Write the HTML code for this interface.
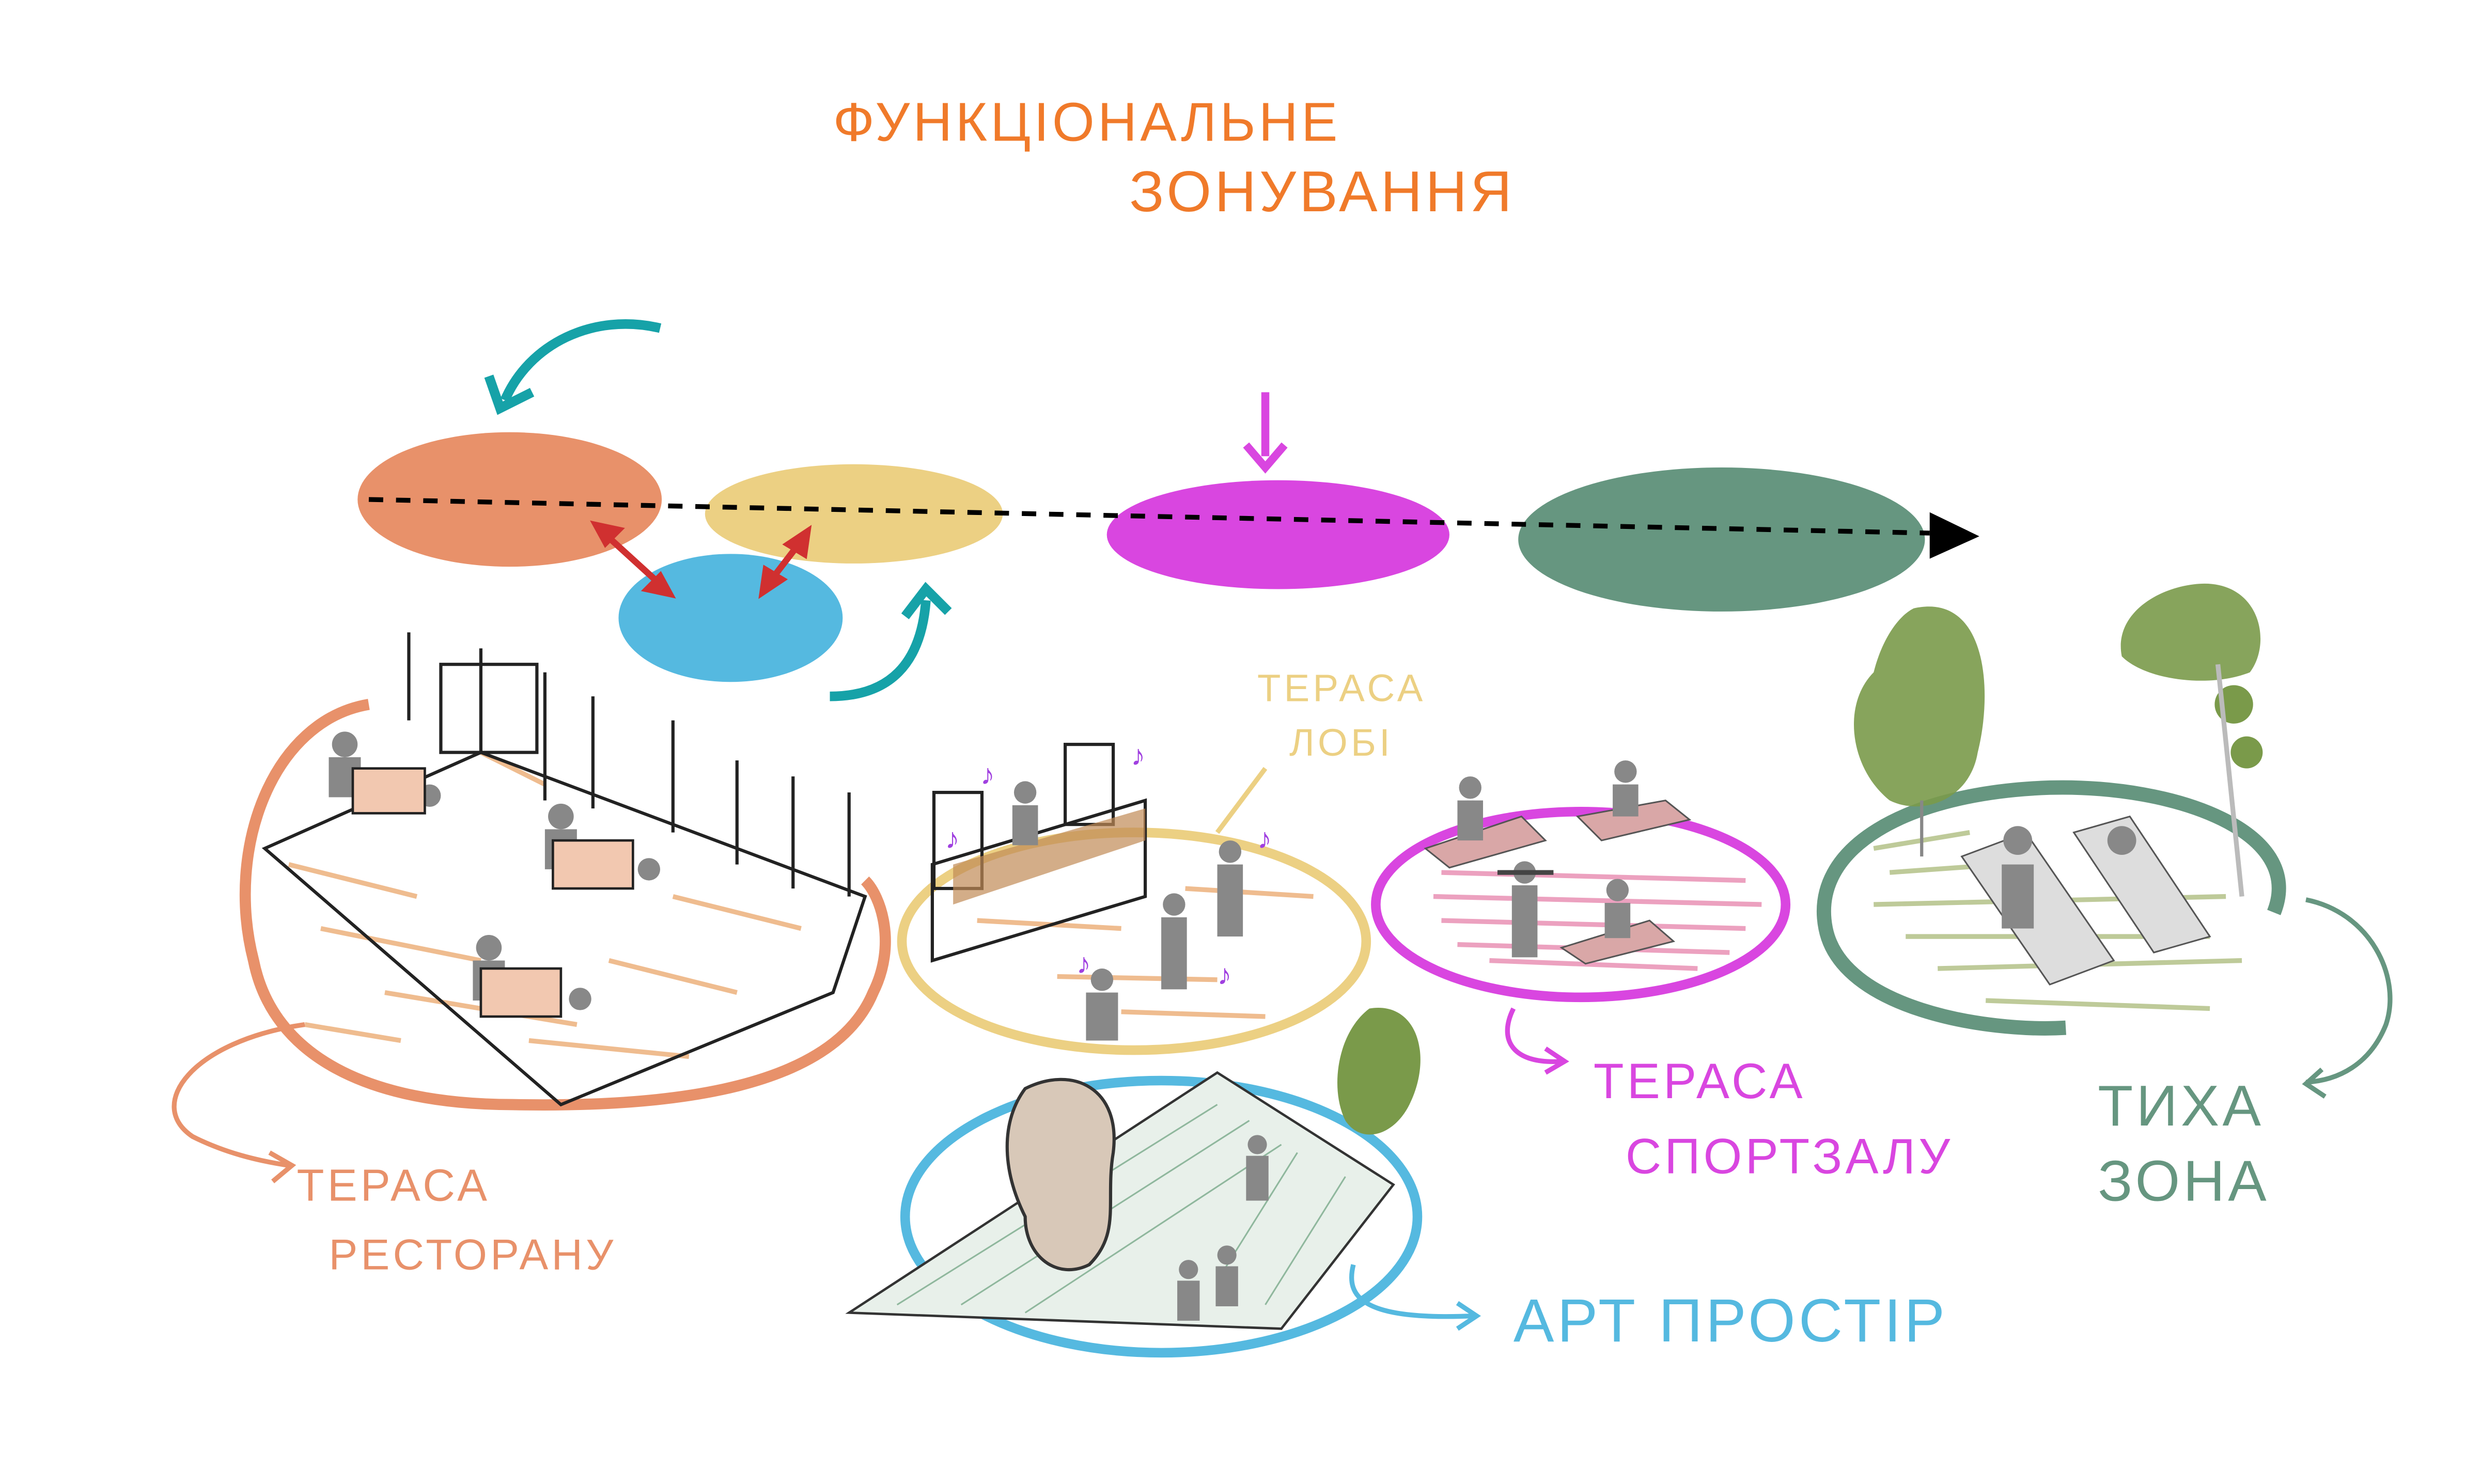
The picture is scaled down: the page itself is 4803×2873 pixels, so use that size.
<!DOCTYPE html>
<html><head><meta charset="utf-8"><style>
html,body{margin:0;padding:0;background:#fff;}
svg{display:block;}
text{font-family:"Liberation Sans",sans-serif;letter-spacing:2px;}
</style></head><body>
<svg width="4803" height="2873" viewBox="0 0 1549 927" xmlns="http://www.w3.org/2000/svg">
<rect width="1549" height="927" fill="#fff"/>
<!-- title -->
<text x="520" y="88" font-size="34" fill="#f07a2a">ФУНКЦІОНАЛЬНЕ</text>
<text x="705" y="132" font-size="36" fill="#f07a2a">ЗОНУВАННЯ</text>

<!-- top ellipses -->
<ellipse cx="318" cy="312" rx="95" ry="42" fill="#e8916a"/>
<ellipse cx="456" cy="386" rx="70" ry="40" fill="#55b9e0"/>
<ellipse cx="533" cy="321" rx="93" ry="31" fill="#ecd083"/>
<ellipse cx="798" cy="334" rx="107" ry="34" fill="#d946e0"/>
<ellipse cx="1075" cy="337" rx="127" ry="45" fill="#669680"/>
<line x1="230" y1="312" x2="1205" y2="333" stroke="#000" stroke-width="3" stroke-dasharray="9,8"/>
<path d="M1205,320 L1236,335 L1205,349 z" fill="#000"/>
<!-- red arrows -->
<g stroke="#d03030" stroke-width="4" fill="#d03030">
<line x1="378" y1="334" x2="412" y2="365"/><path d="M372,328 l14,3 -8,8z"/><path d="M418,371 l-14,-3 8,-8z"/>
<line x1="480" y1="364" x2="500" y2="338"/><path d="M476,370 l2,-14 10,6z"/><path d="M504,332 l-2,14 -10,-6z"/>
</g>
<!-- magenta arrow -->
<line x1="790" y1="245" x2="790" y2="285" stroke="#d946e0" stroke-width="5"/>
<path d="M778,278 L790,292 L802,278" stroke="#d946e0" stroke-width="5" fill="none"/>
<!-- teal arrows -->
<path d="M412,205 C370,195 330,215 315,250" stroke="#16a2a8" stroke-width="6" fill="none"/>
<path d="M305,235 L312,255 L332,245" stroke="#16a2a8" stroke-width="6" fill="none"/>
<path d="M518,435 C555,435 575,415 578,375" stroke="#16a2a8" stroke-width="6" fill="none"/>
<path d="M565,385 L578,368 L592,382" stroke="#16a2a8" stroke-width="6" fill="none"/>

<!-- restaurant blob -->
<path d="M230,440 C170,450 140,530 158,600 C170,660 230,690 320,690 C420,692 520,680 545,620 C560,590 550,560 540,550" stroke="#e8916a" stroke-width="7" fill="none"/>
<g stroke="#e9a060" stroke-width="3" opacity="0.7">
<line x1="180" y1="540" x2="260" y2="560"/><line x1="200" y1="580" x2="300" y2="600"/><line x1="240" y1="620" x2="360" y2="640"/><line x1="300" y1="470" x2="340" y2="490"/><line x1="380" y1="600" x2="460" y2="620"/><line x1="420" y1="560" x2="500" y2="580"/><line x1="190" y1="640" x2="250" y2="650"/><line x1="330" y1="650" x2="430" y2="660"/>
</g>
<g stroke="#222" stroke-width="2" fill="none">
<path d="M165,530 L300,470 L540,560 L520,620 L350,690 Z"/>
<line x1="255" y1="395" x2="255" y2="450"/><line x1="300" y1="405" x2="300" y2="470"/><line x1="340" y1="420" x2="340" y2="500"/><line x1="370" y1="435" x2="370" y2="505"/><line x1="420" y1="450" x2="420" y2="520"/><line x1="460" y1="475" x2="460" y2="540"/><line x1="495" y1="485" x2="495" y2="555"/><line x1="530" y1="495" x2="530" y2="560"/>
<rect x="275" y="415" width="60" height="55"/>
</g>
<g fill="#888"><circle cx="215" cy="465" r="8"/><rect x="205" y="473" width="20" height="25"/><circle cx="350" cy="510" r="8"/><rect x="340" y="518" width="20" height="25"/><circle cx="305" cy="592" r="8"/><rect x="295" y="600" width="20" height="25"/><circle cx="268" cy="497" r="7"/><circle cx="405" cy="543" r="7"/><circle cx="362" cy="624" r="7"/></g>
<g fill="#f2c8b0" stroke="#222" stroke-width="1.5"><rect x="220" y="480" width="45" height="28"/><rect x="345" y="525" width="50" height="30"/><rect x="300" y="605" width="50" height="30"/></g>
<path d="M190,640 C120,650 90,690 120,710 C140,720 160,725 180,728" stroke="#e8916a" stroke-width="3" fill="none"/>
<path d="M168,720 L182,728 L170,738" stroke="#e8916a" stroke-width="3" fill="none"/>
<text x="185" y="750" font-size="28" fill="#e8916a">ТЕРАСА</text>
<text x="205" y="793" font-size="27" fill="#e8916a">РЕСТОРАНУ</text>

<!-- lobby -->
<ellipse cx="708" cy="588" rx="145" ry="68" stroke="#ecd083" stroke-width="6" fill="none"/>
<g stroke="#e9a060" stroke-width="3" opacity="0.7"><line x1="610" y1="575" x2="700" y2="580"/><line x1="660" y1="610" x2="760" y2="612"/><line x1="740" y1="555" x2="820" y2="560"/><line x1="700" y1="632" x2="790" y2="635"/></g>
<g stroke="#222" stroke-width="2" fill="none"><path d="M582,540 L715,500 L715,560 L582,600 Z"/><rect x="583" y="495" width="30" height="60"/><rect x="665" y="465" width="30" height="50"/></g>
<path d="M595,540 L715,505 L715,525 L595,565 Z" fill="#c08a55" opacity="0.7"/>
<g fill="#888"><circle cx="768" cy="532" r="7"/><rect x="760" y="540" width="16" height="45"/><circle cx="733" cy="565" r="7"/><rect x="725" y="573" width="16" height="45"/><circle cx="688" cy="612" r="7"/><rect x="678" y="620" width="20" height="30"/><circle cx="640" cy="495" r="7"/><rect x="632" y="503" width="16" height="25"/></g>
<g fill="#a040e0" font-size="18"><text x="612" y="490">♪</text><text x="706" y="478">♪</text><text x="785" y="530">♪</text><text x="672" y="608">♪</text><text x="760" y="615">♪</text><text x="590" y="530">♪</text></g>
<path d="M760,520 L790,480" stroke="#ecd083" stroke-width="3"/>
<text x="785" y="438" font-size="24" fill="#ecd083">ТЕРАСА</text>
<text x="805" y="472" font-size="24" fill="#ecd083">ЛОБІ</text>

<!-- gym -->
<ellipse cx="987" cy="565" rx="128" ry="58" stroke="#d946e0" stroke-width="6" fill="none"/>
<g stroke="#e88ab0" stroke-width="3" opacity="0.8"><line x1="900" y1="545" x2="1090" y2="550"/><line x1="895" y1="560" x2="1100" y2="565"/><line x1="900" y1="575" x2="1090" y2="580"/><line x1="910" y1="590" x2="1080" y2="595"/><line x1="930" y1="600" x2="1060" y2="605"/></g>
<g fill="#d9a7a7" stroke="#555"><path d="M890,530 L950,510 L965,525 L905,542 Z"/><path d="M985,510 L1040,500 L1055,512 L1000,525 Z"/><path d="M975,592 L1030,575 L1045,588 L990,602 Z"/></g>
<g fill="#888"><circle cx="918" cy="492" r="7"/><rect x="910" y="500" width="16" height="25"/><circle cx="1015" cy="482" r="7"/><rect x="1007" y="490" width="16" height="20"/><circle cx="1010" cy="556" r="7"/><rect x="1002" y="564" width="16" height="22"/><circle cx="952" cy="545" r="7"/><rect x="944" y="553" width="16" height="45"/></g>
<line x1="935" y1="545" x2="970" y2="545" stroke="#444" stroke-width="3"/>
<path d="M945,630 C935,650 945,665 975,663" stroke="#d946e0" stroke-width="3" fill="none"/>
<path d="M965,655 L977,663 L965,670" stroke="#d946e0" stroke-width="3" fill="none"/>
<text x="995" y="686" font-size="31" fill="#d946e0">ТЕРАСА</text>
<text x="1015" y="733" font-size="31" fill="#d946e0">СПОРТЗАЛУ</text>

<!-- quiet zone -->
<path d="M1420,570 C1440,520 1360,490 1280,492 C1190,495 1130,530 1140,580 C1150,630 1240,645 1290,642" stroke="#669680" stroke-width="9" fill="none"/>
<g stroke="#a3b56e" stroke-width="3" opacity="0.7"><line x1="1180" y1="545" x2="1250" y2="540"/><line x1="1170" y1="565" x2="1390" y2="560"/><line x1="1190" y1="585" x2="1380" y2="585"/><line x1="1210" y1="605" x2="1400" y2="600"/><line x1="1240" y1="625" x2="1380" y2="630"/><line x1="1170" y1="530" x2="1230" y2="520"/></g>
<g fill="#ddd" stroke="#555"><path d="M1225,535 L1265,520 L1320,600 L1280,615 Z"/><path d="M1295,520 L1330,510 L1380,585 L1345,595 Z"/></g>
<g fill="#888"><circle cx="1260" cy="525" r="9"/><circle cx="1325" cy="525" r="9"/><rect x="1250" y="540" width="20" height="40"/></g>
<path d="M1195,380 C1240,370 1245,430 1235,470 C1230,500 1200,510 1180,500 C1155,480 1150,440 1170,420 C1175,400 1185,385 1195,380 Z" fill="#7a9a4a" opacity="0.9"/>
<line x1="1200" y1="500" x2="1200" y2="535" stroke="#888" stroke-width="2"/>
<path d="M1370,365 C1410,360 1420,400 1405,420 C1380,430 1340,425 1325,410 C1320,385 1345,368 1370,365 Z" fill="#7a9a4a" opacity="0.9"/>
<circle cx="1395" cy="440" r="12" fill="#7a9a4a"/><circle cx="1403" cy="470" r="10" fill="#7a9a4a"/>
<line x1="1385" y1="415" x2="1400" y2="560" stroke="#bbb" stroke-width="3"/>
<path d="M1440,562 C1480,570 1500,610 1490,640 C1480,665 1460,675 1440,676" stroke="#669680" stroke-width="3" fill="none"/>
<path d="M1450,668 L1440,677 L1452,685" stroke="#669680" stroke-width="3" fill="none"/>
<text x="1310" y="703" font-size="36" fill="#669680">ТИХА</text>
<text x="1310" y="750" font-size="36" fill="#669680">ЗОНА</text>

<!-- art space -->
<ellipse cx="725" cy="760" rx="160" ry="85" stroke="#55b9e0" stroke-width="6" fill="none"/>
<path d="M530,820 L760,670 L870,740 L800,830 Z" fill="#e8f0ea" stroke="#333" stroke-width="1.5"/>
<g stroke="#7aaa8a" stroke-width="1" opacity="0.8"><line x1="560" y1="815" x2="760" y2="690"/><line x1="600" y1="815" x2="780" y2="700"/><line x1="640" y1="820" x2="800" y2="715"/><line x1="810" y1="720" x2="760" y2="800"/><line x1="840" y1="735" x2="790" y2="815"/></g>
<path d="M640,680 C670,665 700,680 695,720 C690,750 700,770 680,790 C660,800 640,785 640,760 C625,730 625,700 640,680 Z" fill="#d8c8b8" stroke="#333" stroke-width="2"/>
<path d="M855,630 C885,625 895,660 880,690 C870,710 850,715 840,700 C830,680 835,645 855,630 Z" fill="#7a9a4a"/>
<g fill="#888"><circle cx="785" cy="715" r="6"/><rect x="778" y="722" width="14" height="28"/><circle cx="742" cy="793" r="6"/><rect x="735" y="800" width="14" height="25"/><circle cx="766" cy="784" r="6"/><rect x="759" y="791" width="14" height="25"/></g>
<path d="M845,790 C840,810 850,825 920,822" stroke="#55b9e0" stroke-width="3" fill="none"/>
<path d="M910,814 L922,822 L910,830" stroke="#55b9e0" stroke-width="3" fill="none"/>
<text x="945" y="838" font-size="38" fill="#55b9e0">АРТ  ПРОСТІР</text>
</svg>
</body></html>
